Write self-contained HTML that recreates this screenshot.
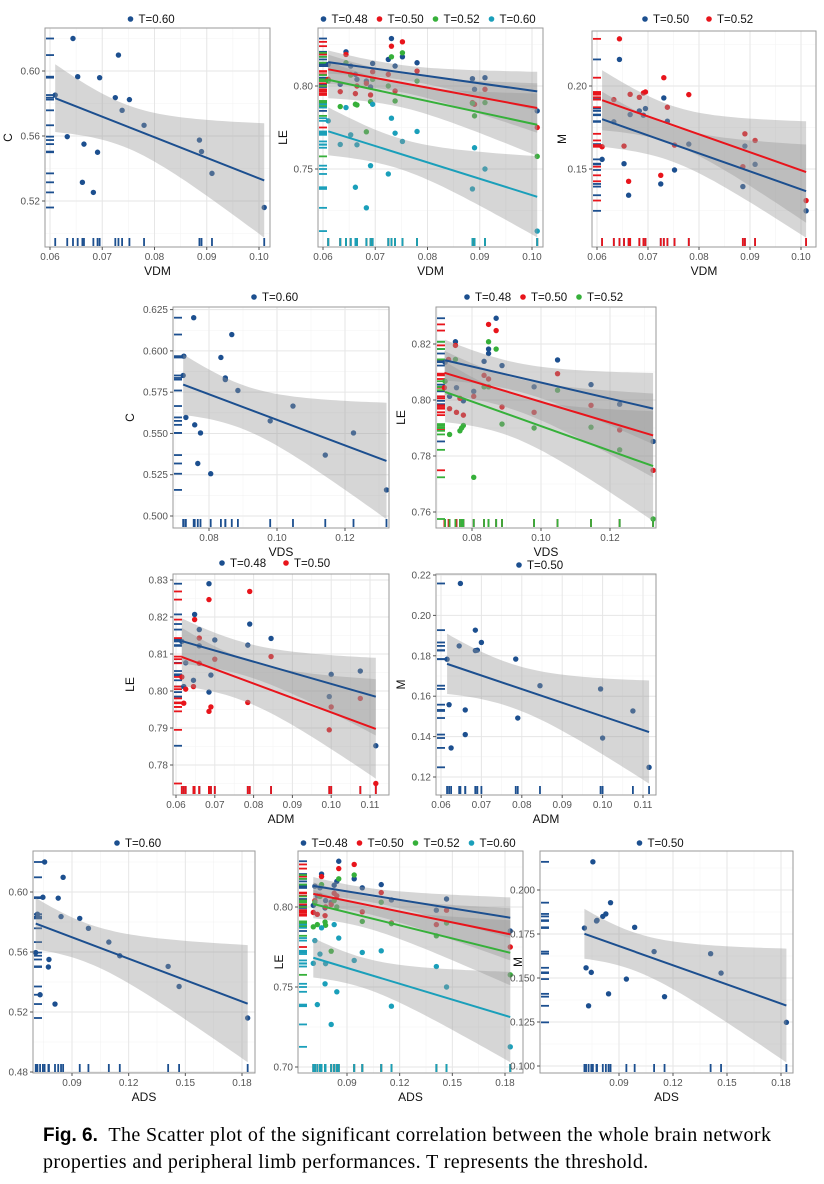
<!DOCTYPE html>
<html><head><meta charset="utf-8">
<style>
html,body{margin:0;padding:0;background:#fff;}
body{width:824px;height:1184px;position:relative;overflow:hidden;}
svg{position:absolute;left:0;top:0;}
#caption{position:absolute;left:43px;top:1122px;width:760px;font-family:"Liberation Serif",serif;font-size:20px;letter-spacing:0.4px;line-height:26px;color:#000;}
#caption b{font-family:"Liberation Sans",sans-serif;font-size:19px;letter-spacing:0;}
</style></head>
<body>
<svg id="fig" width="824" height="1184"></svg>
<div id="caption"><b>Fig. 6.</b>&nbsp; The Scatter plot of the significant correlation between the whole brain network properties and peripheral limb performances. T represents the threshold.</div>
<script>
// ---- subject-level data (18 subjects) ----
const vdm = [0.061,0.0633,0.0644,0.0653,0.0662,0.0665,0.0683,0.0691,0.0695,0.0725,0.0731,0.0738,0.0752,0.078,0.0886,0.089,0.091,0.101];
const ads = [0.0717,0.0708,0.0755,0.0746,0.0731,0.0778,0.081,0.0775,0.0827,0.0842,0.0853,0.0987,0.0941,0.1095,0.1153,0.1409,0.1467,0.183];
const c60 = [0.5852,0.5596,0.620,0.5965,0.5315,0.555,0.5253,0.550,0.5959,0.5836,0.6098,0.5758,0.5824,0.5666,0.5575,0.5504,0.537,0.516];
const le48 = [0.813,0.801,0.8206,0.812,0.807,0.804,0.803,0.7994,0.8136,0.816,0.8286,0.812,0.8176,0.814,0.8044,0.798,0.805,0.785];
const le50 = [0.804,0.7966,0.819,0.807,0.7954,0.800,0.8016,0.7946,0.8086,0.807,0.824,0.797,0.8266,0.809,0.790,0.789,0.798,0.775];
const le52 = [0.803,0.7876,0.814,0.8066,0.789,0.7886,0.7724,0.7906,0.804,0.800,0.8176,0.791,0.820,0.803,0.7896,0.782,0.790,0.7576];
const le60 = [0.779,0.7648,0.787,0.7706,0.739,0.7646,0.7266,0.752,0.789,0.747,0.7806,0.7716,0.7666,0.7726,0.738,0.7628,0.750,0.7126];
const m50 = [0.1558,0.1784,0.216,0.1532,0.1342,0.1828,0.185,0.1824,0.1864,0.141,0.1928,0.1788,0.1494,0.165,0.1394,0.1638,0.1528,0.1248];
const m52 = [0.1634,0.1918,0.2284,0.1638,0.1426,0.195,0.1932,0.1958,0.1964,0.1462,0.205,0.1872,0.1644,0.1948,0.1514,0.1712,0.1672,0.131];
// VDS panel (C)
const vdsC_x = [0.0726,0.0724,0.0732,0.0755,0.0758,0.0767,0.0775,0.0805,0.0835,0.0848,0.0848,0.0867,0.0885,0.0980,0.1047,0.1142,0.1225,0.1322];
const vdsC_y = [0.5968,0.5851,0.5597,0.6201,0.5552,0.5318,0.5503,0.5256,0.596,0.5836,0.5826,0.6099,0.576,0.5576,0.5666,0.5369,0.5503,0.5158];
// VDS panel (LE)
const vds48_x = [0.0722,0.0735,0.0752,0.0755,0.0775,0.0805,0.0835,0.0848,0.0848,0.0870,0.0887,0.0980,0.1048,0.1145,0.1228,0.1325];
const vds48_y = [0.8135,0.8013,0.8208,0.8044,0.7997,0.8031,0.8138,0.8182,0.8166,0.8292,0.8123,0.8047,0.8143,0.8055,0.7985,0.7852];
const vds50_x = [0.0720,0.0732,0.0735,0.0752,0.0755,0.0765,0.0775,0.0805,0.0835,0.0848,0.0848,0.0870,0.0887,0.0980,0.1048,0.1145,0.1228,0.1325];
const vds50_y = [0.8044,0.8145,0.7969,0.8195,0.7956,0.8006,0.7946,0.8013,0.8088,0.827,0.8075,0.8248,0.7975,0.7956,0.8094,0.7981,0.7893,0.7749];
const vds52_x = [0.0722,0.0735,0.0752,0.0765,0.0770,0.0775,0.0805,0.0835,0.0848,0.0848,0.0870,0.0887,0.0980,0.1048,0.1145,0.1228,0.1325];
const vds52_y = [0.8067,0.7877,0.8145,0.789,0.79,0.7909,0.7724,0.8047,0.8208,0.8047,0.8182,0.7914,0.79,0.8035,0.7903,0.7822,0.7575];
// ADM panels
const adm = [0.0615,0.0620,0.0625,0.0645,0.0648,0.0660,0.0660,0.0685,0.0685,0.0690,0.0700,0.0785,0.0790,0.0845,0.0995,0.1000,0.1075,0.1115];
const adm48_y = [0.8134,0.8012,0.8076,0.8029,0.8207,0.8166,0.8122,0.8290,0.7997,0.8043,0.8138,0.8124,0.8181,0.8142,0.7985,0.8045,0.8054,0.7852];
const adm50_y = [0.8038,0.7967,0.8005,0.8012,0.8193,0.8143,0.8075,0.8247,0.7945,0.7957,0.8086,0.7969,0.8269,0.8093,0.7895,0.7957,0.798,0.775];
const admM_y = [0.1783,0.1558,0.1344,0.1849,0.2158,0.1532,0.141,0.1927,0.1826,0.1828,0.1866,0.1784,0.1492,0.1652,0.1636,0.1393,0.1527,0.1248];
// tick label arrays
const ticksVDM = [0.06,0.07,0.08,0.09,0.10];
const ticksVDS = [0.08,0.10,0.12];
const ticksADM = [0.06,0.07,0.08,0.09,0.10,0.11];
const ticksADS = [0.09,0.12,0.15,0.18];
const ticksC1 = [0.52,0.56,0.60];
const ticksC2 = [0.500,0.525,0.550,0.575,0.600,0.625];
const ticksLE1 = [0.75,0.80];
const ticksLE2 = [0.76,0.78,0.80,0.82];
const ticksLE3 = [0.78,0.79,0.80,0.81,0.82,0.83];
const ticksLE4 = [0.70,0.75,0.80];
const ticksM1 = [0.15,0.20];
const ticksM2 = [0.12,0.14,0.16,0.18,0.20,0.22];
const ticksM3 = [0.100,0.125,0.150,0.175,0.200];

const BLUE='#1c4f8f', RED='#e8141b', GREEN='#36b03a', CYAN='#1a9fba';
const NS='http://www.w3.org/2000/svg';
const svg=document.getElementById('fig');
function mk(tag,attrs,parent){const e=document.createElementNS(NS,tag);for(const k in attrs)e.setAttribute(k,attrs[k]);(parent||svg).appendChild(e);return e;}

const panels=[
 {id:'c-vs-vdm',f:[45,28,270,247],xa:[0.06,50,0.10,259],ya:[0.60,71,0.52,201],xt:ticksVDM,xd:2,yt:ticksC1,yd:2,xl:'VDM',yl:'C',ylx:12,ly:19,
  s:[{n:'T=0.60',c:BLUE,x:vdm,y:c60}]},
 {id:'le-vs-vdm',f:[318,28,543,247],xa:[0.06,323,0.10,532],ya:[0.80,86,0.75,169],xt:ticksVDM,xd:2,yt:ticksLE1,yd:2,xl:'VDM',yl:'LE',ylx:287,ly:19,
  s:[{n:'T=0.48',c:BLUE,x:vdm,y:le48},{n:'T=0.50',c:RED,x:vdm,y:le50},{n:'T=0.52',c:GREEN,x:vdm,y:le52},{n:'T=0.60',c:CYAN,x:vdm,y:le60}]},
 {id:'m-vs-vdm',f:[592,31,816,247],xa:[0.06,597,0.10,801],ya:[0.20,86,0.15,169],xt:ticksVDM,xd:2,yt:ticksM1,yd:2,xl:'VDM',yl:'M',ylx:566,ly:19,
  s:[{n:'T=0.50',c:BLUE,x:vdm,y:m50},{n:'T=0.52',c:RED,x:vdm,y:m52}]},
 {id:'c-vs-vds',f:[173,307,389,528],xa:[0.08,209,0.12,345],ya:[0.625,309.6,0.500,516],xt:ticksVDS,xd:2,yt:ticksC2,yd:3,xl:'VDS',yl:'C',ylx:134,ly:297,
  s:[{n:'T=0.60',c:BLUE,x:vdsC_x,y:vdsC_y}]},
 {id:'le-vs-vds',f:[436,307,656,528],xa:[0.08,472,0.12,610],ya:[0.82,344,0.76,512],xt:ticksVDS,xd:2,yt:ticksLE2,yd:2,xl:'VDS',yl:'LE',ylx:405,ly:297,
  s:[{n:'T=0.48',c:BLUE,x:vds48_x,y:vds48_y},{n:'T=0.50',c:RED,x:vds50_x,y:vds50_y},{n:'T=0.52',c:GREEN,x:vds52_x,y:vds52_y}]},
 {id:'le-vs-adm',f:[173,574,389,795],xa:[0.06,176,0.11,370],ya:[0.83,580,0.78,765],xt:ticksADM,xd:2,yt:ticksLE3,yd:2,xl:'ADM',yl:'LE',ylx:134,ly:563,
  s:[{n:'T=0.48',c:BLUE,x:adm,y:adm48_y},{n:'T=0.50',c:RED,x:adm,y:adm50_y}]},
 {id:'m-vs-adm',f:[436,574,656,795],xa:[0.06,441,0.11,643],ya:[0.22,575,0.12,777],xt:ticksADM,xd:2,yt:ticksM2,yd:2,xl:'ADM',yl:'M',ylx:405,ly:565,
  s:[{n:'T=0.50',c:BLUE,x:adm,y:admM_y}]},
 {id:'c-vs-ads',f:[33,851,255,1073],xa:[0.09,72,0.18,242],ya:[0.60,892,0.48,1072],xt:ticksADS,xd:2,yt:ticksC1.concat([0.48]),yd:2,xl:'ADS',yl:'',ylx:-20,ly:843,
  s:[{n:'T=0.60',c:BLUE,x:ads,y:c60}]},
 {id:'le-vs-ads',f:[298,851,523,1073],xa:[0.09,347,0.18,505],ya:[0.80,907,0.70,1067],xt:ticksADS,xd:2,yt:ticksLE4,yd:2,xl:'ADS',yl:'LE',ylx:283,ly:843,
  s:[{n:'T=0.48',c:BLUE,x:ads,y:le48},{n:'T=0.50',c:RED,x:ads,y:le50},{n:'T=0.52',c:GREEN,x:ads,y:le52},{n:'T=0.60',c:CYAN,x:ads,y:le60}]},
 {id:'m-vs-ads',f:[540,851,793,1073],xa:[0.09,619,0.18,781],ya:[0.200,890,0.100,1066],xt:ticksADS,xd:2,yt:ticksM3,yd:3,xl:'ADS',yl:'M',ylx:522,ly:843,
  s:[{n:'T=0.50',c:BLUE,x:ads,y:m50}]}
];

function fit(xs,ys){const n=xs.length;let mx=0,my=0;for(let i=0;i<n;i++){mx+=xs[i];my+=ys[i];}mx/=n;my/=n;
 let sxx=0,sxy=0;for(let i=0;i<n;i++){sxx+=(xs[i]-mx)**2;sxy+=(xs[i]-mx)*(ys[i]-my);}const b=sxy/sxx,a=my-b*mx;
 let sse=0;for(let i=0;i<n;i++){sse+=(ys[i]-a-b*xs[i])**2;}const s=Math.sqrt(sse/(n-2));
 return {a,b,mx,sxx,s,n,xmin:Math.min(...xs),xmax:Math.max(...xs)};}

panels.forEach(p=>{
 const [x0,y0,x1,y1]=p.f;
 const sx=v=>p.xa[1]+(v-p.xa[0])*(p.xa[3]-p.xa[1])/(p.xa[2]-p.xa[0]);
 const sy=v=>p.ya[1]+(v-p.ya[0])*(p.ya[3]-p.ya[1])/(p.ya[2]-p.ya[0]);
 const g=mk('g',{});
 
 
 mk('rect',{x:x0,y:y0,width:x1-x0,height:y1-y0,fill:'#fff'},g);
 const clipId='clip-'+p.id;
 const cp=mk('clipPath',{id:clipId},g);mk('rect',{x:x0,y:y0,width:x1-x0,height:y1-y0},cp);
 const inner=mk('g',{'clip-path':'url(#'+clipId+')'},g);
 const xs=p.xt, ys=p.yt.slice().sort((a,b)=>a-b);
 const dx=xs[1]-xs[0], dy=ys[1]-ys[0];
 for(let v=xs[0]-dx*1.5;v<=xs[xs.length-1]+dx*2;v+=dx){const X=sx(v);mk('line',{x1:X,x2:X,y1:y0,y2:y1,stroke:'#f3f3f3','stroke-width':0.6},inner);}
 for(let v=ys[0]-dy*1.5;v<=ys[ys.length-1]+dy*2;v+=dy){const Y=sy(v);mk('line',{x1:x0,x2:x1,y1:Y,y2:Y,stroke:'#f3f3f3','stroke-width':0.6},inner);}
 xs.forEach(v=>{const X=sx(v);mk('line',{x1:X,x2:X,y1:y0,y2:y1,stroke:'#e6e6e6','stroke-width':1},inner);});
 ys.forEach(v=>{const Y=sy(v);mk('line',{x1:x0,x2:x1,y1:Y,y2:Y,stroke:'#e6e6e6','stroke-width':1},inner);});
 p.s.forEach(s=>{
  s.x.forEach(v=>{const r=mk('line',{x1:sx(v),x2:sx(v),y1:y1-1,y2:y1-9,stroke:s.c,'stroke-width':1.8},inner);
   
   });
  s.y.forEach(v=>{const r=mk('line',{x1:x0+1,x2:x0+9,y1:sy(v),y2:sy(v),stroke:s.c,'stroke-width':1.8},inner);
   
   });
 });
 p.s.forEach(s=>{s.x.forEach((v,i)=>{const c=mk('circle',{cx:sx(v),cy:sy(s.y[i]),r:2.7,fill:s.c},inner);
  
  });});
 const fits=p.s.map(s=>fit(s.x,s.y));
 fits.forEach(F=>{const t=2.12,N=40;let up=[],lo=[];
  for(let k=0;k<=N;k++){const x=F.xmin+(F.xmax-F.xmin)*k/N;const yh=F.a+F.b*x;const se=F.s*Math.sqrt(1/F.n+(x-F.mx)**2/F.sxx);
   up.push(sx(x).toFixed(1)+','+sy(yh+t*se).toFixed(1));lo.unshift(sx(x).toFixed(1)+','+sy(yh-t*se).toFixed(1));}
  const b=mk('polygon',{points:up.concat(lo).join(' '),fill:'#999999','fill-opacity':0.4},inner);
  
  });
 fits.forEach((F,i)=>{const l=mk('line',{x1:sx(F.xmin),y1:sy(F.a+F.b*F.xmin),x2:sx(F.xmax),y2:sy(F.a+F.b*F.xmax),stroke:p.s[i].c,'stroke-width':2},inner);
  
  });
 mk('rect',{x:x0,y:y0,width:x1-x0,height:y1-y0,fill:'none',stroke:'#9a9a9a','stroke-width':1},g);
 xs.forEach(v=>{const X=sx(v);mk('line',{x1:X,x2:X,y1:y1,y2:y1+3,stroke:'#555'},g);
  const t=mk('text',{x:X,y:y1+13,'text-anchor':'middle','font-size':10,fill:'#555','font-family':'Liberation Sans, sans-serif'},g);
  t.textContent=v.toFixed(p.xd);
  
  });
 ys.forEach(v=>{const Y=sy(v);mk('line',{x1:x0-3,x2:x0,y1:Y,y2:Y,stroke:'#555'},g);
  const t=mk('text',{x:x0-5,y:Y+3.5,'text-anchor':'end','font-size':10,fill:'#555','font-family':'Liberation Sans, sans-serif'},g);
  t.textContent=v.toFixed(p.yd);
  
  });
 const xt=mk('text',{x:(x0+x1)/2,y:y1+28,'text-anchor':'middle','font-size':12,fill:'#111','font-family':'Liberation Sans, sans-serif'},g);
 xt.textContent=p.xl;
 
 
 if(p.yl){const cy=(y0+y1)/2;const yt=mk('text',{x:p.ylx,y:cy,'text-anchor':'middle','font-size':12,fill:'#111','font-family':'Liberation Sans, sans-serif',transform:'rotate(-90 '+p.ylx+' '+cy+')'},g);
  yt.textContent=p.yl;
  
  }
 const itemW=p.s.length>2?56:64, tot=itemW*p.s.length, lx=(x0+x1)/2-tot/2;
 p.s.forEach((s,i)=>{const gx=lx+i*itemW;const lg=mk('g',{},g);
  
  
  mk('circle',{cx:gx+5,cy:p.ly,r:2.8,fill:s.c},lg);
  const t=mk('text',{x:gx+13,y:p.ly+4,'font-size':11.5,fill:'#111','font-family':'Liberation Sans, sans-serif'},lg);t.textContent=s.n;});
});
</script>
</body></html>
